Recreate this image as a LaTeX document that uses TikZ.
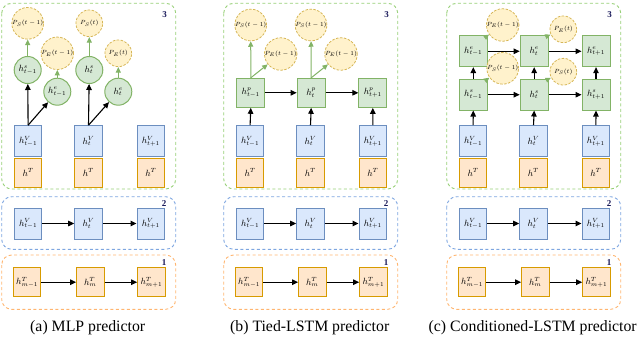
\documentclass[tikz,border=0pt]{standalone}
\usepackage{fontspec}
\setmainfont{Liberation Serif}
\usetikzlibrary{arrows.meta}
\definecolor{gfill}{HTML}{D5E8D4}\definecolor{gdraw}{HTML}{82B366}
\definecolor{bfill}{HTML}{DAE8FC}\definecolor{bdraw}{HTML}{6C8EBF}
\definecolor{ofill}{HTML}{FFE6CC}\definecolor{odraw}{HTML}{D79B00}
\definecolor{yfill}{HTML}{FFF2CC}\definecolor{ydraw}{HTML}{D6B656}
\definecolor{contgreen}{HTML}{97D077}\definecolor{contblue}{HTML}{7EA6E0}
\definecolor{contorange}{HTML}{FFB570}\definecolor{numcol}{HTML}{1A1A5A}
\tikzset{
  cont/.style={dash pattern=on 3pt off 2.5pt, line width=0.9pt, rounded corners=10pt},
  num/.style={font=\fontsize{9}{10}\selectfont\bfseries, text=numcol, inner sep=0pt},
  vbox/.style={rectangle, draw=bdraw, fill=bfill, line width=1pt, minimum width=27.7pt, minimum height=31pt, inner sep=0pt, font=\fontsize{9}{10}\selectfont},
  tbox/.style={rectangle, draw=odraw, fill=ofill, line width=1pt, minimum width=27.4pt, minimum height=29pt, inner sep=0pt, font=\fontsize{9}{10}\selectfont},
  gbox/.style={rectangle, draw=gdraw, fill=gfill, line width=1pt, minimum width=28pt, minimum height=29pt, inner sep=0pt, font=\fontsize{9}{10}\selectfont},
  gcirc/.style={circle, draw=gdraw, fill=gfill, line width=1pt, minimum size=27pt, inner sep=0pt, font=\fontsize{9}{10}\selectfont},
  prob/.style={circle, draw=ydraw, fill=yfill, line width=0.8pt, dash pattern=on 2.5pt off 1.5pt, minimum size=26.7pt, inner sep=0pt, font=\fontsize{6}{7}\selectfont},
  arr/.style={draw=black, line width=1.1pt, -{Triangle[length=6pt,width=5.5pt]}},
  garr/.style={draw=gdraw, line width=1pt, -{Triangle[length=5.5pt,width=5pt]}},
  capt/.style={font=\fontsize{15.8}{18}\selectfont, inner sep=0pt},
}
\newcommand{\mypanel}[3]{%
\begin{scope}[xshift=#2]
  \draw[cont, draw=contgreen] (0,3.3) rectangle (174,189);
  \draw[cont, draw=contblue] (0,196.7) rectangle (174,249.3);
  \draw[cont, draw=contorange] (0,255) rectangle (174,309.3);
  \node[num] (#1n3) at (163,15) {3};
  \node[num] (#1n2) at (162.5,203.5) {2};
  \node[num] (#1n1) at (162.5,262.7) {1};
  \node[vbox] (#1b1) at (26.4,223.5) {$h^V_{t-1}$};
  \node[vbox] (#1b2) at (86.8,223.5) {$h^V_{t}$};
  \node[vbox] (#1b3) at (149.2,223.5) {$h^V_{t+1}$};
  \draw[arr] (#1b1) -- (#1b2);
  \draw[arr] (#1b2) -- (#1b3);
  \node[tbox] (#1o1) at (25.4,282.2) {$h^T_{m-1}$};
  \node[tbox] (#1o2) at (88.6,282.2) {$h^T_{m}$};
  \node[tbox] (#1o3) at (149.7,282.2) {$h^T_{m+1}$};
  \draw[arr] (#1o1) -- (#1o2);
  \draw[arr] (#1o2) -- (#1o3);
  \node[vbox] (#1v1) at (26.4,141.2) {$h^V_{t-1}$};
  \node[vbox] (#1v2) at (86.8,141.2) {$h^V_{t}$};
  \node[vbox] (#1v3) at (149.2,141.2) {$h^V_{t+1}$};
  \node[tbox, minimum width=27.7pt] (#1t1) at (26.4,172.5) {$h^T$};
  \node[tbox, minimum width=27.7pt] (#1t2) at (86.8,172.5) {$h^T$};
  \node[tbox, minimum width=27.7pt] (#1t3) at (149.2,172.5) {$h^T$};
  \node[capt] (#1cap) at (86,327.5) {#3};
\end{scope}}
\begin{document}
\begin{tikzpicture}[x=1pt,y=-1pt]
\useasboundingbox (0,0) rectangle (640,337);
\mypanel{a}{1.7pt}{(a) MLP predictor}
\mypanel{b}{223.7pt}{(b) Tied-LSTM predictor}
\mypanel{c}{446.7pt}{(c) Conditioned-LSTM predictor}
% panel a
\begin{scope}[xshift=1.7pt]
  \node[gcirc] (as1) at (26,70) {$h^s_{t-1}$};
  \node[gcirc] (ae1) at (55.6,91.7) {$h^e_{t-1}$};
  \node[prob] (aps1) at (26,23.3) {$P_S(t-1)$};
  \node[prob] (ape1) at (55.6,53.3) {$P_E(t-1)$};
  \node[gcirc] (as2) at (87.6,70) {$h^s_{t}$};
  \node[gcirc] (ae2) at (116.6,91.7) {$h^e_{t}$};
  \node[prob] (aps2) at (87.6,23.3) {$P_S(t)$};
  \node[prob] (ape2) at (116.6,53.3) {$P_E(t)$};
  \draw[arr] (av1.north) -- (as1);
  \draw[arr] (av1.north) -- (ae1);
  \draw[arr] (av2.north) -- (as2);
  \draw[arr] (av2.north) -- (ae2);
  \draw[garr] (as1) -- (aps1);
  \draw[garr] (ae1) -- (ape1);
  \draw[garr] (as2) -- (aps2);
  \draw[garr] (ae2) -- (ape2);
\end{scope}
% panel b
\begin{scope}[xshift=223.7pt]
  \node[gbox] (bp1) at (27.1,92.8) {$h^p_{t-1}$};
  \node[gbox] (bp2) at (87.5,92.8) {$h^p_{t}$};
  \node[gbox] (bp3) at (149.1,92.8) {$h^p_{t+1}$};
  \node[prob] (bps1) at (27,25) {$P_S(t-1)$};
  \node[prob] (bpe1) at (57,54) {$P_E(t-1)$};
  \node[prob] (bps2) at (87.3,25) {$P_S(t-1)$};
  \node[prob] (bpe2) at (117.3,54) {$P_E(t-1)$};
  \draw[arr] (bv1.north) -- (bp1.south);
  \draw[arr] (bv2.north) -- (bp2.south);
  \draw[arr] (bv3.north) -- (bp3.south);
  \draw[arr] (bp1) -- (bp2);
  \draw[arr] (bp2) -- (bp3);
  \draw[garr] (bp1.north) -- (bps1);
  \draw[garr] (bp1.north) -- (bpe1);
  \draw[garr] (bp2.north) -- (bps2);
  \draw[garr] (bp2.north) -- (bpe2);
\end{scope}
% panel c
\begin{scope}[xshift=446.7pt]
  \node[gbox, minimum height=30.7pt] (ce1) at (26.6,51.3) {$h^e_{t-1}$};
  \node[gbox, minimum height=30.7pt] (ce2) at (87.5,51.3) {$h^e_{t}$};
  \node[gbox, minimum height=30.7pt] (ce3) at (149.3,51.3) {$h^e_{t+1}$};
  \node[gbox, minimum height=30.7pt] (cs1) at (26.6,94.7) {$h^s_{t-1}$};
  \node[gbox, minimum height=30.7pt] (cs2) at (87.5,94.7) {$h^s_{t}$};
  \node[gbox, minimum height=30.7pt] (cs3) at (149.3,94.7) {$h^s_{t+1}$};
  \node[prob] (cpe1) at (56,25) {$P_E(t-1)$};
  \node[prob] (cps1) at (56,68.3) {$P_S(t-1)$};
  \node[prob] (cpe2) at (116.6,29.3) {$P_E(t)$};
  \node[prob] (cps2) at (116.6,71.7) {$P_S(t)$};
  \draw[arr] (cv1.north) -- (cs1.south);
  \draw[arr] (cv2.north) -- (cs2.south);
  \draw[arr] (cv3.north) -- (cs3.south);
  \draw[arr] (cs1.north) -- (ce1.south);
  \draw[arr] (cs2.north) -- (ce2.south);
  \draw[arr] (cs3.north) -- (ce3.south);
  \draw[arr] (ce1) -- (ce2);
  \draw[arr] (ce2) -- (ce3);
  \draw[arr] (cs1) -- (cs2);
  \draw[arr] (cs2) -- (cs3);
  \draw[garr] (ce1.north east) -- (cpe1);
  \draw[garr] (cs1.north east) -- (cps1);
  \draw[garr] (ce2.north east) -- (cpe2);
  \draw[garr] (cs2.north east) -- (cps2);
\end{scope}
\end{tikzpicture}
\end{document}
